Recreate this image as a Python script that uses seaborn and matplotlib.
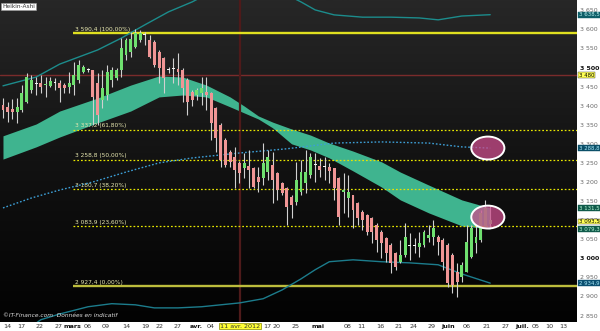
import numpy as np
import pandas as pd
import matplotlib
matplotlib.use("Agg")
import matplotlib.pyplot as plt
import matplotlib.transforms as mtransforms
from matplotlib.patches import Ellipse
from matplotlib.colors import LinearSegmentedColormap
import seaborn as sns

# ---------------- data ----------------
opens = [3402,3397,3391,3384,3389,3410,3441,3457,3460,3454,
         3452,3460,3460,3454,3449,3454,3467,3488,3494,3494,
         3460,3415,3428,3467,3473,3494,3533,3541,3554,3572,
         3585,3572,3567,3541,3525,3494,3499,3496,3494,3467,
         3436,3428,3433,3436,3433,3394,3350,3310,3279,3266,
         3250,3237,3242,3237,3213,3211,3226,3245,3224,3198,
         3184,3161,3148,3174,3198,3219,3245,3242,3238,3240,
         3237,3211,3174,3158,3166,3145,3122,3114,3106,3088,
         3069,3053,3035,3014,2991,3009,3031,3033,3030,3035,
         3053,3056,3056,3048,3035,3009,2964,2951,2964,3004,
         3040,3048,3080,3090]
highs = [3420,3410,3418,3420,3454,3486,3480,3475,3480,3475,
         3475,3473,3467,3460,3488,3515,3520,3507,3499,3494,
         3486,3494,3507,3502,3499,3577,3577,3593,3601,3598,
         3593,3585,3572,3546,3528,3502,3525,3538,3499,3473,
         3441,3446,3475,3475,3436,3397,3355,3315,3284,3292,
         3255,3276,3284,3240,3240,3302,3284,3279,3226,3200,
         3187,3166,3253,3258,3284,3276,3276,3263,3266,3250,
         3237,3213,3224,3218,3166,3148,3127,3116,3109,3093,
         3074,3056,3040,3017,3048,3093,3067,3053,3069,3074,
         3088,3101,3061,3053,3040,3014,2988,2991,3088,3088,
         3088,3127,3153,3140]
lows = [3368,3357,3365,3355,3384,3407,3433,3428,3433,3423,
        3449,3441,3410,3433,3433,3428,3460,3486,3488,3350,
        3350,3394,3415,3449,3467,3475,3520,3528,3551,3567,
        3559,3525,3501,3460,3433,3486,3460,3454,3410,3376,
        3399,3415,3402,3389,3310,3279,3240,3240,3240,3184,
        3198,3211,3184,3184,3174,3192,3205,3145,3153,3166,
        3088,3106,3140,3166,3171,3211,3200,3213,3205,3198,
        3153,3088,3119,3109,3080,3088,3074,3061,3040,3017,
        3001,2991,2962,2970,2988,3004,2996,3014,3004,3030,
        3043,3035,3009,2970,2925,2909,2899,2938,2964,3001,
        3014,3043,3080,3080]
closes = [3389,3384,3384,3397,3433,3475,3467,3460,3449,3458,
          3465,3462,3446,3446,3460,3480,3507,3502,3493,3423,
          3376,3446,3488,3494,3494,3551,3572,3575,3590,3590,
          3588,3528,3507,3499,3473,3493,3496,3488,3446,3410,
          3415,3441,3446,3428,3355,3315,3258,3245,3253,3232,
          3224,3250,3232,3187,3200,3250,3266,3205,3179,3171,
          3135,3140,3205,3226,3226,3266,3248,3232,3241,3229,
          3184,3109,3180,3174,3127,3106,3101,3069,3069,3048,
          3040,3014,2988,2978,3009,3056,3033,3031,3040,3069,
          3061,3080,3043,2991,2936,2930,2938,2983,3043,3080,
          3056,3119,3132,3100]

# cloud band (sampled at candle indices)
band_idx   = [0, 7, 12, 20, 27, 33, 38, 43, 48, 51, 54, 57, 61, 65, 69, 74, 80, 84, 90, 97, 103]
band_upper = [3321,3352,3386,3420,3454,3478,3475,3454,3423,3399,3373,3357,3339,3323,3302,3281,3253,3226,3192,3153,3132]
band_lower = [3260,3292,3318,3355,3386,3423,3428,3423,3397,3381,3365,3342,3300,3284,3263,3229,3187,3153,3119,3085,3077]

# upper envelope (teal line)
upper_idx = [0, 7, 12, 20, 25, 30, 35, 40, 44, 50, 58, 63, 66, 70, 76, 82, 88, 92, 97, 103]
upper_val = [3452,3475,3509,3546,3577,3612,3646,3672,3698,3716,3703,3672,3651,3638,3632,3632,3630,3625,3635,3638.5]

# lower envelope (teal line)
lower_idx = [5, 8, 12, 18, 23, 28, 32, 37, 42, 50, 55, 59, 63, 66, 69, 74, 80, 86, 92, 97, 103]
lower_val = [2812,2839,2854,2873,2881,2878,2870,2870,2873,2883,2894,2917,2946,2970,2991,2996,2991,2988,2983,2959,2934.9]

# blue dotted moving average
ma_idx = [0, 6, 12, 19, 26, 33, 40, 50, 60, 70, 80, 90, 97, 103]
ma_val = [3132,3158,3179,3200,3226,3250,3263,3276,3287,3302,3305,3302,3292,3288.8]

# Fibonacci levels
fib_levels = [3590.4, 3337.2, 3258.8, 3180.7, 3083.9, 2927.4]
fib_labels = ["3 590,4 (100,00%)", "3 337,2 (61,80%)", "3 258,8 (50,00%)",
              "3 180,7 (38,20%)", "3 083,9 (23,60%)", "2 927,4 (0,00%)"]
fib_start = 14.8

red_level = 3480
event_idx = 50.1

xtick_pos = [0.85,3.8,7.8,11.8,14.6,18.0,21.8,26.0,30.0,33.0,37.0,40.8,44.0,50.1,55.8,57.9,
             61.9,66.6,72.9,75.7,79.7,83.7,86.7,90.7,94.1,98.1,102.3,106.3,109.7,112.5,115.4,118.4]
xtick_lab = ['14','17','22','27','mars','06','09','14','19','22','27','avr.','04','11 avr. 2012',
             '17','20','25','mai','08','11','16','21','24','29','juin','06','21','27','juil.','05','10','13']
month_labels = ['mars', 'avr.', 'mai', 'juin', 'juil.']

ytick_vals = [2850,2900,2950,3000,3050,3100,3150,3200,3250,3300,3350,3400,3450,3500,3550,3600,3650]

# value tags on the right axis: value, text, background, text colour
tag_vals = [3638.5, 3480, 3288.8, 3131.5, 3093.5, 3079.3, 2934.9]
tag_text = ["3 638,5", "3 480", "3 288,8", "3 131,5", "3 093,5", "3 079,3", "2 934,9"]
tag_bg   = ["#0d5e68", "#ffff55", "#0b4f68", "#0f5a4a", "#ffff55", "#0f5a4a", "#0b4f70"]
tag_fg   = ["#b8f0f0", "#000000", "#a8e8f8", "#b8f8d8", "#000000", "#b8f8d8", "#a8e8f8"]
tag_nudge = [0, 0, 0, 0, 3.0, -3.0, 0]   # small vertical offsets so adjacent tags just touch

highlight_centers = [(102.5, 3289), (102.5, 3108)]

# ---------------- figure ----------------
sns.set_style("white")
plt.rcParams['font.family'] = ['DejaVu Sans']

fig = plt.figure(figsize=(6.0, 3.31), dpi=100, facecolor="white")
ax = fig.add_axes([0, 9/331, 577/600, 322/331])
XL = (-0.63, 121.35)
YL = (2833, 3677)

# background gradient
grad = np.linspace(0, 1, 256).reshape(-1, 1)
cmap = LinearSegmentedColormap.from_list("bg", ["#272727", "#121212", "#020202"])
ax.imshow(grad, extent=[XL[0], XL[1], YL[0], YL[1]], origin="upper", aspect="auto",
          cmap=cmap, zorder=0)

# cloud band
ax.fill_between(band_idx, band_lower, band_upper, color="#3fb48f", lw=0, zorder=1)

# horizontal red line and event line
ax.axhline(red_level, color="#7a2b2b", lw=1.0, zorder=1.5)
ax.axvline(event_idx, color="#4e1a1a", lw=1.6, zorder=1.5)

# fib lines
for lv, lab in zip(fib_levels, fib_labels):
    if lab.endswith("(100,00%)") or lab.endswith("(0,00%)"):
        col = "#e0e020" if "100" in lab else "#bcbc3c"
        ax.plot([fib_start, XL[1]], [lv, lv], color=col, lw=1.7, zorder=1.6,
                solid_capstyle="butt")
    else:
        ax.plot([fib_start, XL[1]], [lv, lv], color="#e6e600", lw=0.9,
                linestyle=(0, (1.4, 1.6)), zorder=1.6)
    ax.text(fib_start + 0.4, lv + 3, lab, color="#e8e8b0", fontsize=4.2,
            va="bottom", ha="left", zorder=2)

# envelopes + moving average via seaborn
sns.lineplot(x=upper_idx, y=upper_val, ax=ax, color="#1c8c8c", lw=1.0, zorder=2)
sns.lineplot(x=lower_idx, y=lower_val, ax=ax, color="#1c7c8c", lw=1.0, zorder=2)
sns.lineplot(x=ma_idx, y=ma_val, ax=ax, color="#3d9fd6", lw=1.0,
             linestyle=(0, (1.2, 1.4)), zorder=2)

# candles
df = pd.DataFrame({"o": opens, "h": highs, "l": lows, "c": closes})
df["i"] = np.arange(len(df))
ax.vlines(df["i"], df["l"], df["h"], color="#d0d0d0", lw=0.8, zorder=3)
cols = []
for o, c in zip(df["o"], df["c"]):
    if abs(c - o) <= 3:
        cols.append("#f2f2f2")
    elif c > o:
        cols.append("#6fe06f")
    else:
        cols.append("#f09595")
bottoms = np.minimum(df["o"], df["c"])
heights = np.maximum(np.abs(df["c"] - df["o"]), 2.6)
ax.bar(df["i"], heights, bottom=bottoms, width=0.62, color=cols, lw=0, zorder=3.5)

# highlight ellipses
for cx, cy in highlight_centers:
    ax.add_patch(Ellipse((cx, cy), width=7.0, height=60,
                         facecolor=(0.80, 0.30, 0.55, 0.75), edgecolor="white",
                         lw=1.4, zorder=4))

ax.set_xlim(*XL)
ax.set_ylim(*YL)
for s in ax.spines.values():
    s.set_visible(False)

# y axis on right
ax.yaxis.tick_right()
ax.set_yticks(ytick_vals)
ax.set_yticklabels([f"{v // 1000} {v % 1000:03d}" for v in ytick_vals])
ax.tick_params(axis="y", length=0, pad=2.2, labelsize=4.5, labelcolor="#6a6a6a")
for t, v in zip(ax.get_yticklabels(), ytick_vals):
    if v in (3000, 3500):
        t.set_color("#111111")
        t.set_fontweight("bold")

# x axis
ax.set_xticks(xtick_pos)
ax.set_xticklabels(xtick_lab)
ax.tick_params(axis="x", length=0, pad=1.2, labelsize=4.6, labelcolor="#333333")
for t in ax.get_xticklabels():
    if t.get_text() in month_labels:
        t.set_fontweight("bold")
        t.set_color("#111111")
    if "2012" in t.get_text():
        t.set_bbox(dict(facecolor="#ffff33", edgecolor="#8a8a00", pad=0.6, lw=0.5))
ax.set_xlabel("")
ax.set_ylabel("")
ax.grid(False)

# right-axis value tags
trans = mtransforms.blended_transform_factory(ax.transAxes, ax.transData)
for val, txt, bg, fg, dy in zip(tag_vals, tag_text, tag_bg, tag_fg, tag_nudge):
    ax.text(1.003, val + dy, txt, transform=trans, fontsize=3.9, color=fg, va="center",
            ha="left", clip_on=False, zorder=6,
            bbox=dict(facecolor=bg, edgecolor="#333333" if bg == "#ffff55" else bg,
                      pad=0.25, lw=0.3))

# labels in plot
ax.text(0.004, 0.988, "Heikin-Ashi", transform=ax.transAxes, fontsize=4.2,
        color="#333333", va="top", ha="left", zorder=6,
        bbox=dict(facecolor="white", edgecolor="#999999", pad=0.9, lw=0.4))
ax.text(0.005, 0.012, "©IT-Finance.com  Données en indicatif", transform=ax.transAxes,
        fontsize=4.2, color="#dddddd", style="italic", va="bottom", ha="left", zorder=6)

fig.savefig("out.png", dpi=100, facecolor="white")
